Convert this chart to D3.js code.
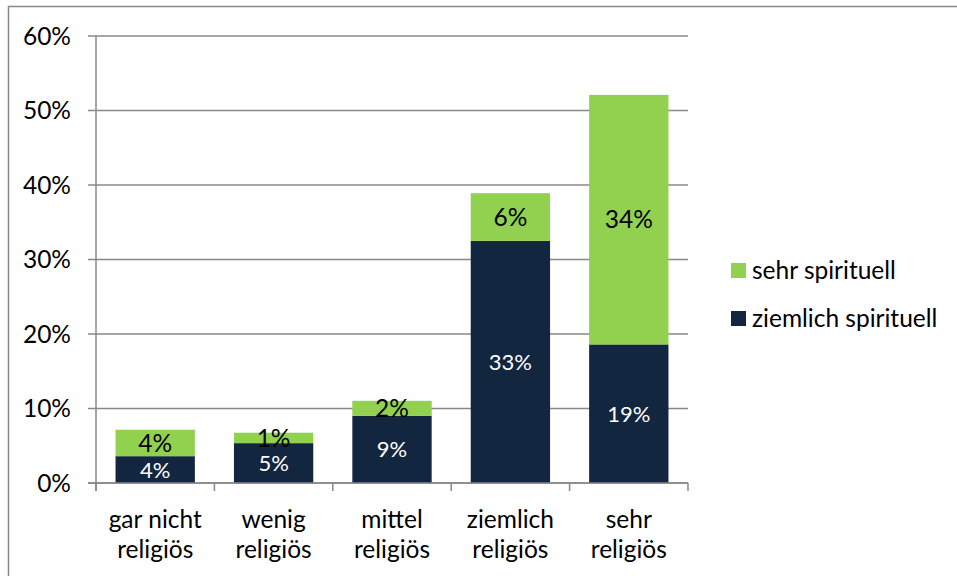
<!DOCTYPE html>
<meta charset="utf-8">
<style>
  body { margin: 0; background: #fff; }
  text { font-family: Lato, "Open Sans", sans-serif; }
</style>
<body>
<script src="https://d3js.org/d3.v7.min.js"></script>
<script>
var categories = [["gar nicht", "religiös"], ["wenig", "religiös"], ["mittel", "religiös"], ["ziemlich", "religiös"], ["sehr", "religiös"]];
var ziemlichSpirituell = [3.6, 5.35, 9.03, 32.5, 18.6];
var sehrSpirituell = [3.55, 1.4, 2.0, 6.4, 33.5];
var ziemlichLabels = ["4%", "5%", "9%", "33%", "19%"];
var sehrLabels = ["4%", "1%", "2%", "6%", "34%"];
var yTicks = [0, 10, 20, 30, 40, 50, 60];
var seriesNames = ["ziemlich spirituell", "sehr spirituell"];
var colors = ["#12263f", "#92d050"];

var width = 957, height = 576;
var margin = {top: 36, left: 96, right: 269, bottom: 93};
var fs = 24.5;

var svg = d3.select("body").append("svg")
    .attr("width", width)
    .attr("height", height);

svg.append("rect")
    .attr("x", 8.5).attr("y", 6.5)
    .attr("width", 1000).attr("height", 700)
    .attr("fill", "none").attr("stroke", "#888").attr("stroke-width", 1.5);

var x = d3.scaleBand()
    .domain(d3.range(categories.length))
    .range([margin.left, width - margin.right])
    .paddingInner(0.33).paddingOuter(0.165);
var xOuter = d3.scaleLinear().domain([0, categories.length]).range([margin.left, width - margin.right]);
var y = d3.scaleLinear().domain([0, 60]).range([height - margin.bottom, margin.top]);

// grid
svg.append("g").selectAll("line")
    .data(yTicks)
  .enter().append("line")
    .attr("x1", margin.left - 8).attr("x2", width - margin.right)
    .attr("y1", function(d) { return y(d); }).attr("y2", function(d) { return y(d); })
    .attr("stroke", "#888").attr("stroke-width", 1.5);

svg.append("g").selectAll("text")
    .data(yTicks)
  .enter().append("text")
    .attr("x", margin.left - 25)
    .attr("y", function(d) { return y(d); })
    .attr("dy", "0.36em")
    .attr("text-anchor", "end")
    .attr("font-size", fs)
    .attr("fill", "#000")
    .text(function(d) { return d + "%"; });

// stacked bars
var stackData = categories.map(function(c, i) { return {z: ziemlichSpirituell[i], s: sehrSpirituell[i]}; });
var stack = d3.stack().keys(["z", "s"])(stackData);
var labels = [ziemlichLabels, sehrLabels];
var labelColors = ["#fff", "#000"];

stack.forEach(function(layer, k) {
  var g = svg.append("g");
  g.selectAll("rect")
      .data(layer)
    .enter().append("rect")
      .attr("x", function(d, i) { return x(i); })
      .attr("width", x.bandwidth())
      .attr("y", function(d) { return y(d[1]); })
      .attr("height", function(d) { return y(d[0]) - y(d[1]); })
      .attr("fill", colors[k]);
  g.selectAll("text")
      .data(layer)
    .enter().append("text")
      .attr("x", function(d, i) { return x(i) + x.bandwidth() / 2; })
      .attr("y", function(d) { return (y(d[0]) + y(d[1])) / 2; })
      .attr("dy", "0.36em")
      .attr("text-anchor", "middle")
      .attr("font-size", k === 0 ? 22 : fs)
      .attr("fill", labelColors[k])
      .text(function(d, i) { return labels[k][i]; });
});

// axes lines
svg.append("line")
    .attr("x1", margin.left).attr("x2", margin.left)
    .attr("y1", y(60)).attr("y2", y(0) + 8)
    .attr("stroke", "#888").attr("stroke-width", 1.5);
svg.append("g").selectAll("line")
    .data(d3.range(categories.length + 1))
  .enter().append("line")
    .attr("x1", function(d) { return xOuter(d); }).attr("x2", function(d) { return xOuter(d); })
    .attr("y1", y(0)).attr("y2", y(0) + 8)
    .attr("stroke", "#888").attr("stroke-width", 1.5);
svg.append("line")
    .attr("x1", margin.left - 8).attr("x2", width - margin.right)
    .attr("y1", y(0)).attr("y2", y(0))
    .attr("stroke", "#888").attr("stroke-width", 1.5);

// category labels
var cat = svg.append("g").selectAll("text")
    .data(categories)
  .enter().append("text")
    .attr("text-anchor", "middle")
    .attr("font-size", fs)
    .attr("fill", "#000");
cat.each(function(lines, i) {
  var t = d3.select(this);
  lines.forEach(function(line, j) {
    t.append("tspan")
      .attr("x", x(i) + x.bandwidth() / 2)
      .attr("y", 528 + j * 30)
      .text(line);
  });
});

// legend
var legend = svg.append("g").selectAll("g")
    .data([1, 0])
  .enter().append("g")
    .attr("transform", function(d, i) { return "translate(731," + (263 + i * 48) + ")"; });
legend.append("rect")
    .attr("width", 15).attr("height", 15)
    .attr("fill", function(d) { return colors[d]; });
legend.append("text")
    .attr("x", 21).attr("y", 7.5)
    .attr("dy", "0.36em")
    .attr("font-size", fs)
    .text(function(d) { return seriesNames[d]; });
</script>
